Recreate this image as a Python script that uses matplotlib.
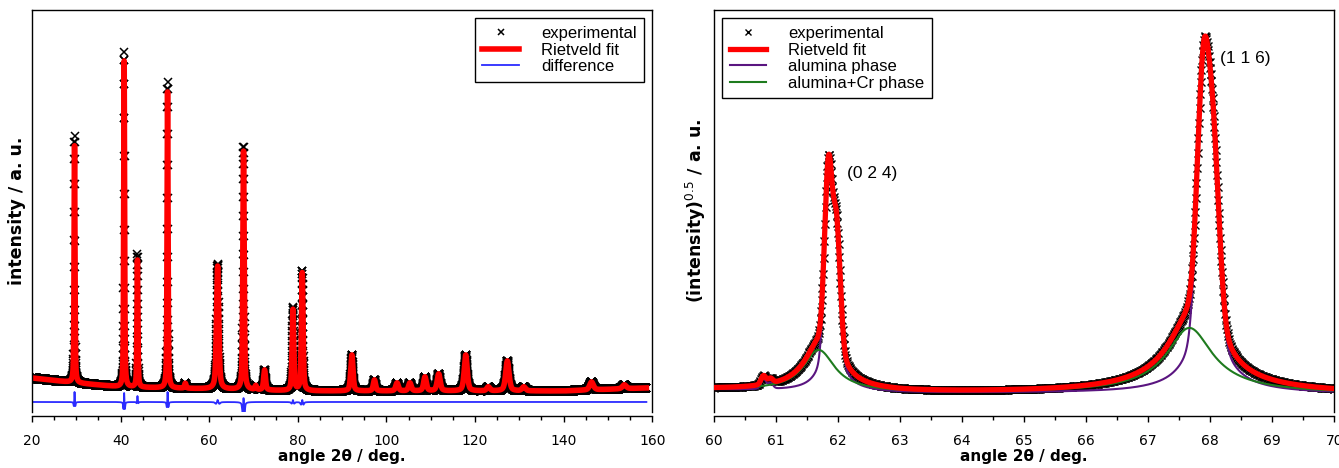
import numpy as np
import matplotlib.pyplot as plt
from matplotlib.ticker import MultipleLocator

# ---- overview pattern (left), heights in plot units ----
bg_angle = [20, 30, 40, 60, 80, 140, 158.5]
bg_level = [34, 29, 25, 23, 21, 21, 24]

peak_pos = [29.6, 40.8, 43.8, 50.6, 54.6, 61.9, 67.75, 70.5, 72.5, 78.9, 81.0,
            92.2, 97.3, 102.4, 105.3, 108.7, 111.8, 117.9, 123.0, 127.3, 131.0,
            146.3, 153.7]
peak_fit = [237, 326, 127, 296, 5, 123, 239, 4, 20, 81, 118,
            36, 11, 8, 8, 14, 17, 36, 4, 30, 4, 8, 4]
peak_exp = [247, 335, 133, 306, 5, 125, 243, 4, 20, 83, 120,
            36, 11, 8, 8, 14, 17, 36, 4, 30, 4, 8, 4]
hwhm_fit = [0.12, 0.12, 0.13, 0.13, 0.2, 0.3, 0.18, 0.2, 0.25, 0.22, 0.22,
            0.3, 0.3, 0.35, 0.35, 0.35, 0.4, 0.4, 0.4, 0.45, 0.45, 0.5, 0.5]
hwhm_exp = [0.114, 0.114, 0.125, 0.124, 0.2, 0.29, 0.165, 0.2, 0.25, 0.21, 0.21,
            0.3, 0.3, 0.35, 0.35, 0.35, 0.4, 0.4, 0.4, 0.45, 0.45, 0.5, 0.5]
diff_offset = 10

# ---- zoom 60-70 deg (right), intensity units, plotted as sqrt ----
zoom_bg_angle = [60, 63, 66, 70]
zoom_bg_level = [500, 360, 360, 330]
alumina_pos = [60.8, 61.85, 67.9]
alumina_amp = [570, 60000, 116000]
alumina_hwhm = [0.045, 0.062, 0.1]
alumina_a2 = [0.11, 0.12, 0.14]
cr_pos = [61.65, 67.62]
cr_amp = [2350, 4520]
cr_hwhm = [0.22, 0.32]
cr_a2 = [0.12, 0.14]
a2_ratio = 0.55


def pv(x, x0, h, eta):
    d2 = ((x - x0) / h) ** 2
    return eta / (1 + d2) + (1 - eta) * np.exp(-np.log(2) * d2)


def pattern(x, pos, amp, hw, eta):
    y = np.zeros_like(x)
    for p, a, w in zip(pos, amp, hw):
        y += a * pv(x, p, w, eta)
    return y


def phase(x, pos, amp, hw, a2, eta):
    y = np.zeros_like(x)
    for p, a, w, s in zip(pos, amp, hw, a2):
        y += a * pv(x, p, w, eta) + a2_ratio * a * pv(x, p + s, w, eta)
    return y


# left data
tt = np.arange(20, 158.7, 0.02)
bg = np.interp(tt, bg_angle, bg_level)
fit = bg + pattern(tt, peak_pos, peak_fit, hwhm_fit, 0.5)
exp_ = bg + pattern(tt, peak_pos, peak_exp, hwhm_exp, 0.5)
diff = exp_ - fit + diff_offset

# right data
tz = np.arange(60, 70.001, 0.005)
bgz = np.interp(tz, zoom_bg_angle, zoom_bg_level)
i_al = phase(tz, alumina_pos, alumina_amp, alumina_hwhm, alumina_a2, 0.2)
i_cr = phase(tz, cr_pos, cr_amp, cr_hwhm, cr_a2, 1.0)
fit_z = np.sqrt(bgz + i_al + i_cr)
al_z = np.sqrt(bgz + i_al)
cr_z = np.sqrt(bgz + i_cr)
exp_z = fit_z[::2]
tz_exp = tz[::2]

plt.rcParams['font.family'] = 'DejaVu Sans'
red = '#ff0000'
blue = '#2b2bff'
purple = '#5a1580'
green = '#1e7b1e'

fig = plt.figure(figsize=(13.39, 4.68), dpi=100)
ax1 = fig.add_axes([0.0239, 0.1197, 0.4632, 0.8589])
ax2 = fig.add_axes([0.5332, 0.1197, 0.4632, 0.8589])

ax1.plot(tt, exp_, ls='none', marker='x', ms=6, mew=1.1, c='black', label='experimental')
ax1.plot(tt, fit, c=red, lw=4, label='Rietveld fit')
ax1.plot(tt, diff, c=blue, lw=1.3, label='difference')
ax1.set_xlim(20, 160)
ax1.set_ylim(0, 402)
ax1.xaxis.set_major_locator(MultipleLocator(20))
ax1.xaxis.set_minor_locator(MultipleLocator(5))
ax1.set_ylabel('intensity / a. u.', fontsize=12.5, fontweight='bold', labelpad=4)

ax2.plot(tz_exp, exp_z, ls='none', marker='x', ms=5.5, mew=1.0, c='black', label='experimental')
ax2.plot(tz, fit_z, c=red, lw=3.8, label='Rietveld fit', zorder=3)
ax2.plot(tz, al_z, c=purple, lw=1.5, label='alumina phase', zorder=2)
ax2.plot(tz, cr_z, c=green, lw=1.5, label='alumina+Cr phase', zorder=2)
ax2.set_xlim(60, 70)
ax2.set_ylim(0, 402)
ax2.xaxis.set_major_locator(MultipleLocator(1))
ax2.xaxis.set_minor_locator(MultipleLocator(0.5))
ax2.set_ylabel('(intensity)$^{0.5}$ / a. u.', fontsize=12.5, fontweight='bold', labelpad=4)
ax2.text(62.55, 239, '(0 2 4)', fontsize=12.5, family='Liberation Sans', ha='center', va='center')
ax2.text(68.56, 354, '(1 1 6)', fontsize=12.5, family='Liberation Sans', ha='center', va='center')

for ax in (ax1, ax2):
    ax.spines['bottom'].set_position(('outward', 3))
    for s in ax.spines.values():
        s.set_linewidth(1.0)
    ax.set_yticks([])
    ax.tick_params(axis='x', which='major', direction='out', length=4.5, width=1,
                   labelsize=10, pad=8)
    ax.tick_params(axis='x', which='minor', direction='out', length=3, width=1)
    ax.set_xlabel('angle 2θ / deg.', fontsize=11, fontweight='bold', labelpad=1)

leg_kw = dict(fancybox=False, edgecolor='black', framealpha=1,
              prop={'family': 'Liberation Sans', 'size': 12},
              handlelength=2.2, handletextpad=1.3, labelspacing=0.1,
              borderpad=0.45, borderaxespad=0.5, markerscale=0.75)
l1 = ax1.legend(loc='upper right', **leg_kw)
l2 = ax2.legend(loc='upper left', **leg_kw)
for leg in (l1, l2):
    leg.get_frame().set_linewidth(1.0)

fig.savefig('out.png', dpi=100)
